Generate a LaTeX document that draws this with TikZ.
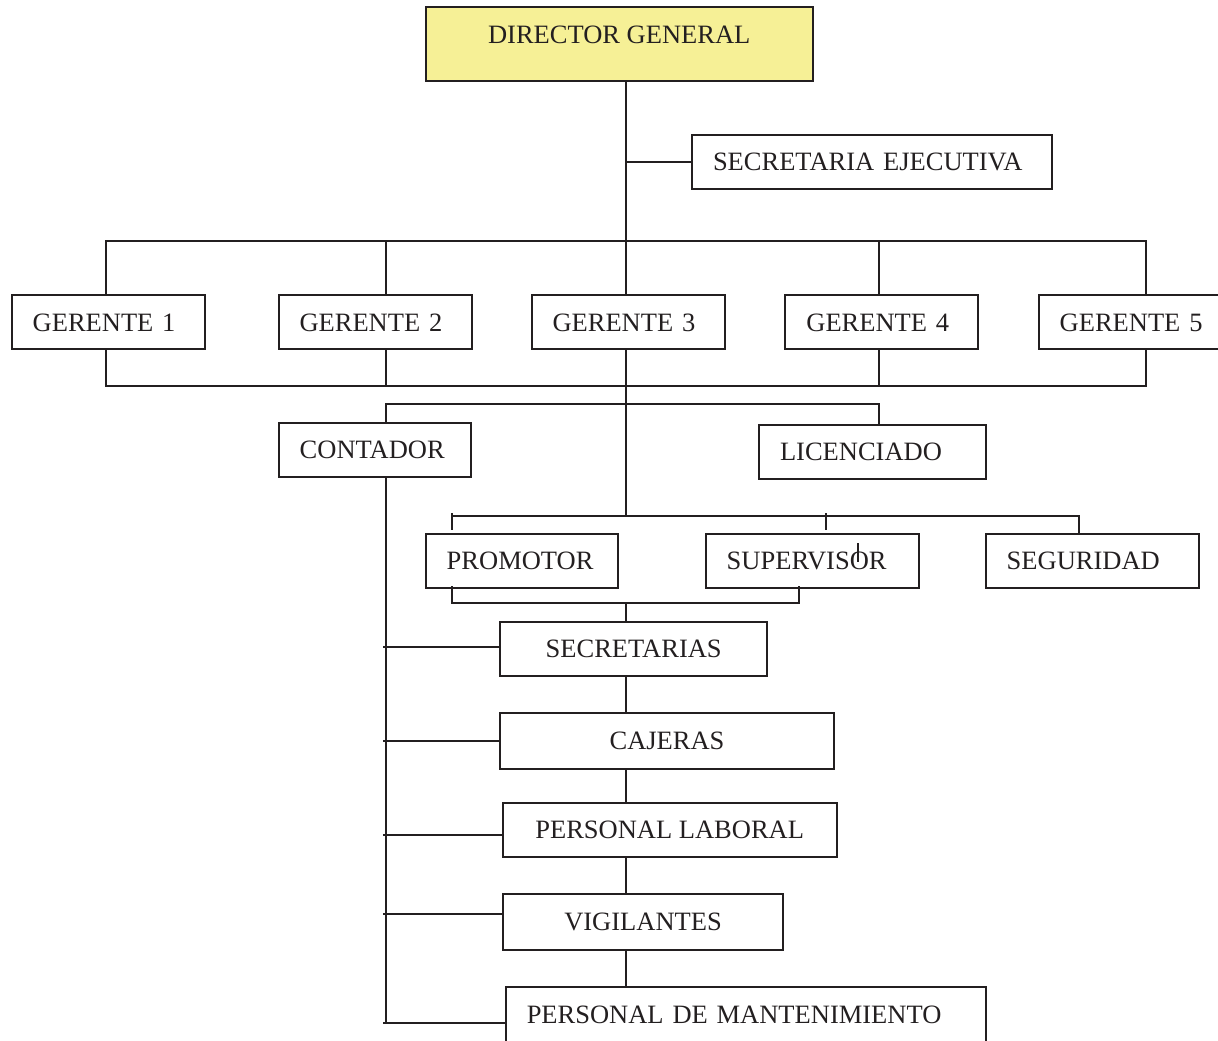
\documentclass[tikz,border=0pt]{standalone}
\usepackage{fontspec}
\setmainfont{Liberation Serif}
\usetikzlibrary{calc}
\definecolor{ink}{RGB}{35,31,32}
\definecolor{dgyellow}{RGB}{246,240,150}

\begin{document}
\begin{tikzpicture}[
        x=0.5pt, y=-0.5pt,
        box/.style={rectangle, draw=ink, text=ink, line width=1pt, inner ysep=0pt,
                    minimum height=27pt, font=\fontsize{13.25}{16}\selectfont},
        tbox/.style={box, text width=#1, align=left, inner xsep=10.5pt},
        cbox/.style={box, minimum width=#1, inner xsep=0pt},
        link/.style={draw=ink, line width=1pt}
    ]
        \useasboundingbox (0,0) rectangle (1218,1040);

        \node[cbox=193.5pt, minimum height=36.7pt, fill=dgyellow, text depth=9pt] (dg) at (619.2,44) {DIRECTOR GENERAL};
        \node[tbox=159pt] (sec) at (872,162) {SECRETARIA EJECUTIVA};

        \node[tbox=75.5pt] (g1) at (108.2,322.4) {GERENTE 1};
        \node[tbox=75.5pt] (g2) at (375,322.4) {GERENTE 2};
        \node[tbox=75.5pt] (g3) at (628,322.4) {GERENTE 3};
        \node[tbox=75.5pt] (g4) at (881.9,322.4) {GERENTE 4};
        \node[tbox=75.5pt] (g5) at (1135.2,322.4) {GERENTE 5};

        \node[tbox=75.3pt] (cont) at (375,449.5) {CONTADOR};
        \node[tbox=92.5pt] (lic) at (872.5,452.2) {LICENCIADO};

        \node[tbox=75.3pt] (prom) at (522,561.2) {PROMOTOR};
        \node[tbox=85.8pt] (sup) at (812.5,561.2) {SUPERVISOR};
        \node[tbox=85.8pt] (seg) at (1092.5,561.2) {SEGURIDAD};

        \node[cbox=133.5pt] (secs) at (633.7,649) {SECRETARIAS};
        \node[cbox=167pt, minimum height=28.3pt] (caj) at (667,741) {CAJERAS};
        \node[cbox=167pt] (plab) at (669.7,830) {PERSONAL LABORAL};
        \node[cbox=140.3pt, minimum height=28.3pt] (vig) at (643,922) {VIGILANTES};
        \node[tbox=219.25pt, minimum height=28pt] (pdm) at (746,1015) {PERSONAL DE MANTENIMIENTO};

        \coordinate (trunk) at (626,0);
        \coordinate (col1) at (106,0);
        \coordinate (col2) at (386,0);
        \coordinate (col4) at (879,0);
        \coordinate (col5) at (1146,0);
        \coordinate (colP) at (452,0);
        \coordinate (colS) at (826,0);
        \coordinate (colSb) at (799,0);
        \coordinate (colG) at (1079,0);
        \coordinate (colT) at (383,0);
        \coordinate (barA) at (0,241);
        \coordinate (barB) at (0,386);
        \coordinate (barC) at (0,404);
        \coordinate (barD) at (0,516);
        \coordinate (barE) at (0,603);

        \draw[link] (dg.south -| trunk) -- (g3.north -| trunk);
        \draw[link] (trunk |- sec.west) -- (sec.west);

        \draw[link] (g1.north -| col1) |- (barA -| col5) -- (g5.north -| col5);
        \draw[link] (g2.north -| col2) -- (barA -| col2);
        \draw[link] (g4.north -| col4) -- (barA -| col4);
        \draw[link] (g1.south -| col1) |- (barB -| col5) -- (g5.south -| col5);
        \draw[link] (g2.south -| col2) -- (barB -| col2);
        \draw[link] (g4.south -| col4) -- (barB -| col4);
        \draw[link] (g3.south -| trunk) -- (barD -| trunk);

        \draw[link] (cont.north -| col2) |- (barC -| col4) -- (lic.north -| col4);

        \draw[link] (barD -| colP) -- (barD -| colG) -- (seg.north -| colG);
        \foreach \c/\n in {colP/prom, colS/sup}
            \draw[link] ($(barD -| \c)+(0,-3)$) -- ($(\n.north -| \c)+(0,-3)$);
        \draw[link] ($(sup.north)+(45,10)$) -- ++(0,19);
        \draw[link] ($(prom.south -| colP)+(0,-3)$) |- (barE -| colSb) -- ($(sup.south -| colSb)+(0,-3)$);
        \draw[link] (barE -| trunk) -- (secs.north -| trunk);

        \foreach \a/\b in {secs/caj, caj/plab, plab/vig, vig/pdm}
            \draw[link] (\a.south -| trunk) -- (\b.north -| trunk);

        \draw[link] (cont.south -| col2) -- ($(col2 |- pdm.west)+(0,8.3)$);
        \foreach \n/\dy in {secs/-1.7, caj/0, plab/4.7, vig/-7.7, pdm/8.3}
            \draw[link] ($(colT |- \n.west)+(0,\dy)$) -- ($(\n.west)+(0,\dy)$);
\end{tikzpicture}
\end{document}
